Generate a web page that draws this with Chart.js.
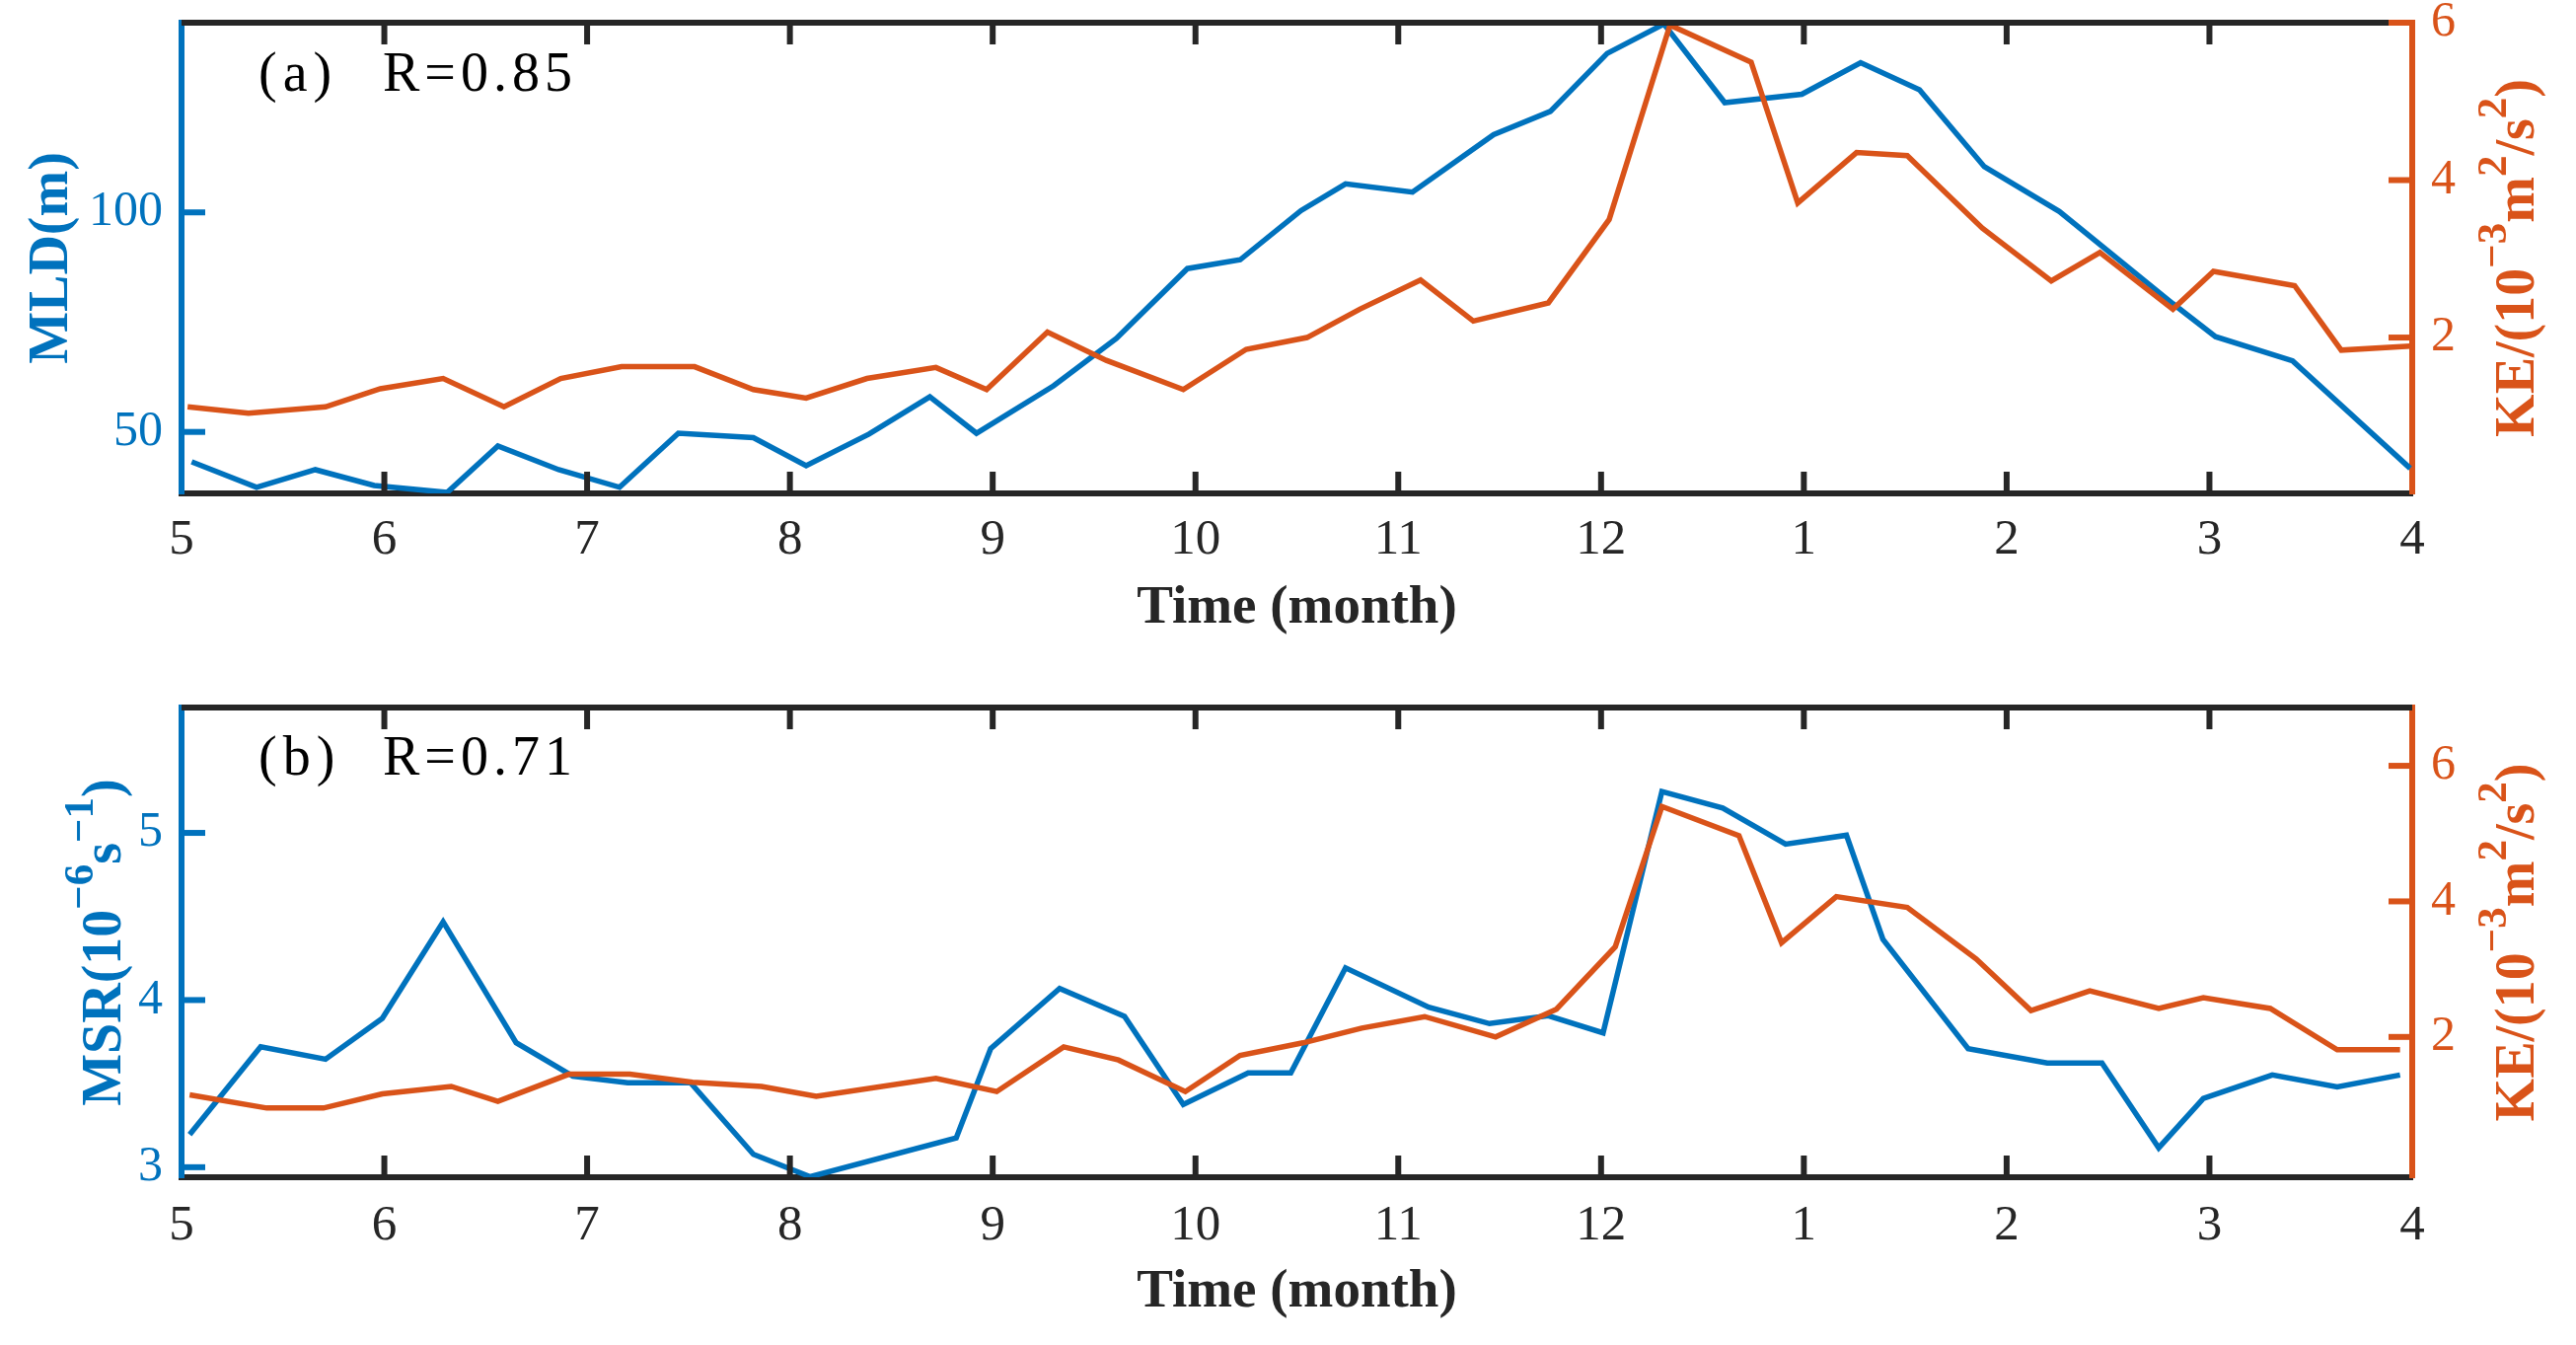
<!DOCTYPE html>
<html>
<head>
<meta charset="utf-8">
<title>MLD / MSR vs KE</title>
<script src="https://cdn.jsdelivr.net/npm/chart.js@4.4.1/dist/chart.umd.min.js"></script>
<style>
  html, body { margin: 0; padding: 0; background: #fff; }
  canvas { display: block; }
</style>
</head>
<body>
<canvas id="chartA" width="2611" height="682"></canvas>
<canvas id="chartB" width="2611" height="681"></canvas>
<script>
// ---------------- data (time in months after 1 May) ----------------
const monthLabels = ['5', '6', '7', '8', '9', '10', '11', '12', '1', '2', '3', '4'];

// panel (a)
const mldTime = [0.05, 0.37, 0.66, 0.95, 1.31, 1.56, 1.86, 2.16, 2.45, 2.82, 3.08, 3.39, 3.69, 3.92, 4.30, 4.61, 4.96, 5.22,
  5.52, 5.74, 6.07, 6.47, 6.75, 7.03, 7.31, 7.61, 7.99, 8.28, 8.57, 8.89, 9.26, 9.82, 10.03, 10.41, 10.99];
const mldValues = [43.2, 37.4, 41.4, 37.8, 36.2, 46.8, 41.4, 37.4, 49.7, 48.7, 42.3, 49.5, 58.0, 49.7, 60.5, 71.3, 87.2, 89.2,
  100.4, 106.5, 104.6, 117.7, 123.0, 136.2, 142.9, 125.0, 126.9, 134.1, 127.9, 110.4, 100.2, 79.2, 71.7, 66.2, 41.7];

const keTimeA = [0.03, 0.33, 0.71, 0.98, 1.29, 1.59, 1.87, 2.17, 2.53, 2.82, 3.08, 3.38, 3.72, 3.97, 4.27, 4.56, 4.94, 5.25,
  5.55, 5.81, 6.11, 6.37, 6.74, 7.04, 7.34, 7.74, 7.97, 8.26, 8.51, 8.88, 9.22, 9.46, 9.82, 10.02, 10.42, 10.65, 10.99];
const keValuesA = [1.12, 1.04, 1.12, 1.35, 1.48, 1.12, 1.48, 1.63, 1.63, 1.34, 1.23, 1.48, 1.62, 1.34, 2.07, 1.71, 1.34, 1.85,
  2.0, 2.36, 2.73, 2.21, 2.44, 3.50, 5.97, 5.50, 3.71, 4.35, 4.31, 3.39, 2.72, 3.08, 2.36, 2.84, 2.66, 1.84, 1.89];

// panel (b)
const msrTime = [0.04, 0.39, 0.71, 0.99, 1.29, 1.65, 1.93, 2.20, 2.51, 2.82, 3.10, 3.82, 3.99, 4.33, 4.65, 4.94, 5.26, 5.47,
  5.74, 6.15, 6.45, 6.74, 7.01, 7.30, 7.60, 7.91, 8.21, 8.39, 8.81, 9.20, 9.47, 9.75, 9.97, 10.31, 10.63, 10.94];
const msrValues = [3.195, 3.72, 3.646, 3.89, 4.468, 3.745, 3.544, 3.505, 3.505, 3.077, 2.943, 3.175, 3.709, 4.069, 3.902, 3.375, 3.564, 3.564,
  4.193, 3.957, 3.859, 3.906, 3.804, 5.248, 5.149, 4.933, 4.986, 4.363, 3.709, 3.623, 3.623, 3.116, 3.411, 3.552, 3.48, 3.552];

const keTimeB = [0.04, 0.42, 0.70, 0.99, 1.33, 1.56, 1.91, 2.21, 2.52, 2.86, 3.13, 3.72, 4.02, 4.35, 4.62, 4.95, 5.22, 5.53,
  5.82, 6.13, 6.48, 6.78, 7.07, 7.30, 7.68, 7.89, 8.16, 8.51, 8.85, 9.12, 9.41, 9.75, 9.97, 10.30, 10.63, 10.94];
const keValuesB = [1.146, 0.951, 0.951, 1.16, 1.27, 1.05, 1.45, 1.45, 1.33, 1.27, 1.126, 1.388, 1.194, 1.854, 1.66, 1.194, 1.728, 1.913,
  2.13, 2.30, 2.0, 2.41, 3.33, 5.40, 4.97, 3.39, 4.07, 3.91, 3.15, 2.39, 2.68, 2.42, 2.58, 2.42, 1.81, 1.81];

const mldTicks = [50, 100];
const msrTicks = [3, 4, 5];
const keTicks = [2, 4, 6];

// ---------------- style ----------------
const BLUE = '#0072BD';
const ORANGE = '#D95319';
const DARK = '#262626';
const SERIF = '"Liberation Serif", "Times New Roman", serif';

function toPoints(xs, ys) {
  return xs.map((x, i) => ({ x: x, y: ys[i] }));
}

// draws rotated (bottom-to-top) text with superscripts
function drawRich(ctx, parts, cx, cy, color) {
  const mainFont = 'bold 56px ' + SERIF;
  const supFont = 'bold 43px ' + SERIF;
  ctx.save();
  ctx.translate(cx, cy);
  ctx.rotate(-Math.PI / 2);
  ctx.fillStyle = color;
  ctx.textBaseline = 'alphabetic';
  ctx.textAlign = 'left';
  let total = 0;
  parts.forEach(p => { ctx.font = p.sup ? supFont : mainFont; total += ctx.measureText(p.t).width; });
  let x = -total / 2;
  parts.forEach(p => {
    ctx.font = p.sup ? supFont : mainFont;
    ctx.fillText(p.t, x, p.sup ? -28 : 0);
    x += ctx.measureText(p.t).width;
  });
  ctx.restore();
}

const framePlugin = {
  id: 'frame',
  afterDatasetsDraw(chart, args, opts) {
    const { ctx, chartArea: a, scales } = chart;
    ctx.save();
    ctx.lineCap = 'butt';

    // top edge of the box
    ctx.strokeStyle = DARK;
    ctx.lineWidth = 6;
    ctx.beginPath();
    ctx.moveTo(a.left, a.top);
    ctx.lineTo(a.right, a.top);
    ctx.stroke();

    // inward x ticks, bottom and top
    scales.x.ticks.forEach(t => {
      if (t.value <= scales.x.min || t.value >= scales.x.max) return;
      const px = scales.x.getPixelForValue(t.value);
      ctx.beginPath();
      ctx.moveTo(px, a.bottom); ctx.lineTo(px, a.bottom - 22);
      ctx.moveTo(px, a.top); ctx.lineTo(px, a.top + 22);
      ctx.stroke();
    });

    // inward y ticks
    ctx.strokeStyle = BLUE;
    scales.y.ticks.forEach(t => {
      const py = scales.y.getPixelForValue(t.value);
      ctx.beginPath(); ctx.moveTo(a.left, py); ctx.lineTo(a.left + 24, py); ctx.stroke();
    });
    ctx.strokeStyle = ORANGE;
    scales.y1.ticks.forEach(t => {
      const py = scales.y1.getPixelForValue(t.value);
      ctx.beginPath(); ctx.moveTo(a.right, py); ctx.lineTo(a.right - 24, py); ctx.stroke();
    });

    // panel label
    ctx.fillStyle = '#000';
    ctx.font = '56px ' + SERIF;
    ctx.textBaseline = 'alphabetic';
    ctx.letterSpacing = '6px';
    ctx.fillText(opts.label, 262, opts.labelY);
    ctx.letterSpacing = '5px';
    ctx.fillText(opts.rText, 388, opts.labelY);
    ctx.letterSpacing = '0px';

    // axis titles
    const midY = (a.top + a.bottom) / 2;
    drawRich(ctx, opts.leftTitle, opts.leftX, midY, BLUE);
    drawRich(ctx, opts.rightTitle, 2568, midY, ORANGE);
    ctx.restore();
  }
};

function makeChart(id, cfg) {
  return new Chart(document.getElementById(id), {
    type: 'line',
    data: {
      datasets: [
        {
          data: toPoints(cfg.keTime, cfg.keValues),
          yAxisID: 'y1',
          borderColor: ORANGE,
          borderWidth: 5.5,
          pointRadius: 0,
          tension: 0,
          order: 0
        },
        {
          data: toPoints(cfg.leftTime, cfg.leftValues),
          yAxisID: 'y',
          borderColor: BLUE,
          borderWidth: 5.5,
          pointRadius: 0,
          tension: 0,
          order: 1
        }
      ]
    },
    options: {
      responsive: false,
      animation: false,
      devicePixelRatio: 1,
      layout: { padding: { top: cfg.padTop, left: 0, right: 0, bottom: 0 } },
      plugins: {
        legend: { display: false },
        tooltip: { enabled: false },
        frame: {
          label: cfg.label,
          rText: cfg.rText,
          labelY: cfg.labelY,
          leftTitle: cfg.leftTitle,
          leftX: cfg.leftX,
          rightTitle: [
            { t: 'KE/(10' }, { t: '\u22123', sup: true }, { t: 'm' }, { t: '2', sup: true },
            { t: '/s' }, { t: '2', sup: true }, { t: ')' }
          ]
        }
      },
      scales: {
        x: {
          type: 'linear',
          min: 0,
          max: 11,
          grid: { display: false, drawTicks: false },
          border: { display: true, color: DARK, width: 6 },
          ticks: {
            stepSize: 1,
            autoSkip: false,
            maxRotation: 0,
            padding: cfg.xTickPad,
            color: DARK,
            font: { family: SERIF, size: 51 },
            callback: v => monthLabels[v] ?? ''
          },
          title: {
            display: true,
            text: 'Time (month)',
            color: DARK,
            font: { family: SERIF, size: 55, weight: 'bold' },
            padding: { top: 0, bottom: cfg.xTitlePad }
          },
          afterFit: s => { s.height = cfg.xHeight; }
        },
        y: {
          position: 'left',
          min: cfg.leftMin,
          max: cfg.leftMax,
          grid: { display: false, drawTicks: false },
          border: { display: true, color: BLUE, width: 6 },
          afterBuildTicks: s => { s.ticks = cfg.leftTicks.map(v => ({ value: v })); },
          ticks: {
            padding: 19,
            color: BLUE,
            font: { family: SERIF, size: 50 }
          },
          afterFit: s => { s.width = 184; s.paddingTop = 0; s.paddingBottom = 0; }
        },
        y1: {
          position: 'right',
          min: cfg.keMin,
          max: cfg.keMax,
          grid: { display: false, drawTicks: false },
          border: { display: true, color: ORANGE, width: 6 },
          afterBuildTicks: s => { s.ticks = keTicks.map(v => ({ value: v })); },
          ticks: {
            padding: 19,
            color: ORANGE,
            font: { family: SERIF, size: 50 }
          },
          afterFit: s => { s.width = 166; s.paddingTop = 0; s.paddingBottom = 0; }
        }
      }
    },
    plugins: [framePlugin]
  });
}

makeChart('chartA', {
  leftTime: mldTime, leftValues: mldValues, leftMin: 36, leftMax: 143.2, leftTicks: mldTicks,
  keTime: keTimeA, keValues: keValuesA, keMin: 0.02, keMax: 6,
  padTop: 23, xHeight: 182, xTickPad: 17, xTitlePad: 32,
  label: '(a)', rText: 'R=0.85', labelY: 92,
  leftTitle: [{ t: 'MLD(m)' }], leftX: 68
});

makeChart('chartB', {
  leftTime: msrTime, leftValues: msrValues, leftMin: 2.94, leftMax: 5.75, leftTicks: msrTicks,
  keTime: keTimeB, keValues: keValuesB, keMin: -0.07, keMax: 6.86,
  padTop: 35, xHeight: 170, xTickPad: 19, xTitlePad: 20,
  label: '(b)', rText: 'R=0.71', labelY: 103,
  leftTitle: [{ t: 'MSR(10' }, { t: '\u22126', sup: true }, { t: 's' }, { t: '\u22121', sup: true }, { t: ')' }],
  leftX: 122
});
</script>
</body>
</html>
